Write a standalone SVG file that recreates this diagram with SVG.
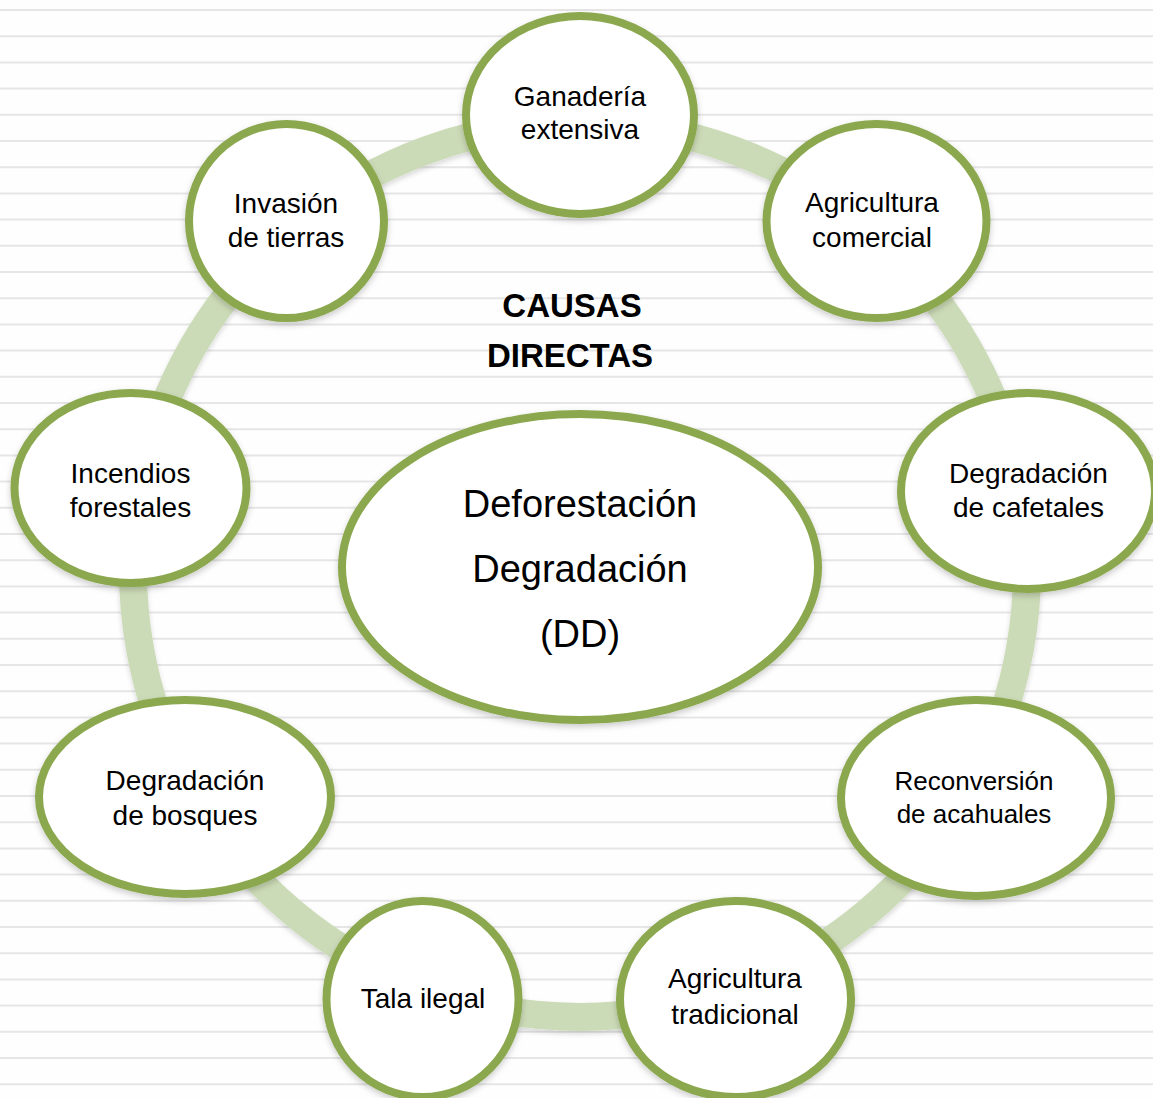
<svg xmlns="http://www.w3.org/2000/svg" width="1153" height="1098" viewBox="0 0 1153 1098">
  <defs>
    <style>
      .bg { fill: #fefefe; }
      .rule { stroke: #e6e6e6; stroke-width: 2; fill: none; }
      .ring { stroke: #ccdbb7; stroke-width: 28; fill: none; }
      .node { fill: #ffffff; stroke: #8ba84f; stroke-width: 8; filter: url(#shadow); }
      .lbl { font-family: "Liberation Sans", Arial, sans-serif; font-size: 28px; fill: #000000; text-anchor: middle; }
      .small { font-size: 26px; }
      .big { font-size: 38px; }
      .title { font-family: "Liberation Sans", Arial, sans-serif; font-size: 33px; font-weight: bold; fill: #000000; text-anchor: middle; }
    </style>
    <filter id="shadow" x="-20%" y="-20%" width="140%" height="150%">
      <feDropShadow dx="0" dy="3" stdDeviation="3" flood-color="#000000" flood-opacity="0.2"/>
    </filter>
    <filter id="ringshadow" x="-10%" y="-10%" width="120%" height="120%">
      <feDropShadow dx="0" dy="3" stdDeviation="2.5" flood-color="#000000" flood-opacity="0.15"/>
    </filter>
  </defs>

  <rect class="bg" x="0" y="0" width="1153" height="1098"/>
  <path class="rule" d="M0 10H1153 M0 36.2H1153 M0 62.4H1153 M0 88.6H1153 M0 114.8H1153 M0 141H1153 M0 167.2H1153 M0 193.4H1153 M0 219.6H1153 M0 245.8H1153 M0 272H1153 M0 298.2H1153 M0 324.4H1153 M0 350.6H1153 M0 376.8H1153 M0 403H1153 M0 429.2H1153 M0 455.4H1153 M0 481.6H1153 M0 507.8H1153 M0 534H1153 M0 560.2H1153 M0 586.4H1153 M0 612.6H1153 M0 638.8H1153 M0 665H1153 M0 691.2H1153 M0 717.4H1153 M0 743.6H1153 M0 769.8H1153 M0 796H1153 M0 822.2H1153 M0 848.4H1153 M0 874.6H1153 M0 900.8H1153 M0 927H1153 M0 953.2H1153 M0 979.4H1153 M0 1005.6H1153 M0 1031.8H1153 M0 1058H1153 M0 1084.2H1153"/>

  <g id="connectors" filter="url(#ringshadow)">
    <path class="ring" d="M580 123 A447 447 0 0 1 867.3 227.6"/>
    <path class="ring" d="M867.3 227.6 A447 447 0 0 1 1020.2 492.4"/>
    <path class="ring" d="M1020.2 492.4 A447 447 0 0 1 967.1 793.5"/>
    <path class="ring" d="M967.1 793.5 A447 447 0 0 1 732.9 990"/>
    <path class="ring" d="M732.9 990 A447 447 0 0 1 427.1 990"/>
    <path class="ring" d="M427.1 990 A447 447 0 0 1 192.9 793.5"/>
    <path class="ring" d="M192.9 793.5 A447 447 0 0 1 139.8 492.4"/>
    <path class="ring" d="M139.8 492.4 A447 447 0 0 1 292.7 227.6"/>
    <path class="ring" d="M292.7 227.6 A447 447 0 0 1 580 123"/>
  </g>

  <g id="title">
    <text class="title" x="572" y="317">CAUSAS</text>
    <text class="title" x="570" y="367">DIRECTAS</text>
  </g>

  <g id="node-center">
    <ellipse class="node" cx="580" cy="567" rx="238" ry="153"/>
    <text class="lbl big" x="580" y="517">Deforestación</text>
    <text class="lbl big" x="580" y="582">Degradación</text>
    <text class="lbl big" x="580" y="647">(DD)</text>
  </g>

  <g id="node-ganaderia">
    <ellipse class="node" cx="580" cy="115" rx="114" ry="99"/>
    <text class="lbl" x="580" y="106">Ganadería</text>
    <text class="lbl" x="580" y="139">extensiva</text>
  </g>

  <g id="node-agricultura-comercial">
    <ellipse class="node" cx="876.5" cy="221" rx="110" ry="97"/>
    <text class="lbl" x="872" y="212">Agricultura</text>
    <text class="lbl" x="872" y="247">comercial</text>
  </g>

  <g id="node-cafetales">
    <ellipse class="node" cx="1028" cy="491" rx="127" ry="98"/>
    <text class="lbl" x="1028.5" y="483">Degradación</text>
    <text class="lbl" x="1028.5" y="517">de cafetales</text>
  </g>

  <g id="node-reconversion">
    <ellipse class="node" cx="976" cy="798" rx="135" ry="98"/>
    <text class="lbl small" x="974" y="790">Reconversión</text>
    <text class="lbl small" x="974" y="823">de acahuales</text>
  </g>

  <g id="node-agricultura-tradicional">
    <ellipse class="node" cx="735.5" cy="999" rx="115.5" ry="98"/>
    <text class="lbl" x="735" y="988">Agricultura</text>
    <text class="lbl" x="735" y="1024">tradicional</text>
  </g>

  <g id="node-tala">
    <ellipse class="node" cx="422.5" cy="999" rx="96" ry="98"/>
    <text class="lbl" x="423" y="1008">Tala ilegal</text>
  </g>

  <g id="node-bosques">
    <ellipse class="node" cx="185" cy="797" rx="146" ry="97"/>
    <text class="lbl" x="185" y="790">Degradación</text>
    <text class="lbl" x="185" y="825">de bosques</text>
  </g>

  <g id="node-incendios">
    <ellipse class="node" cx="130.5" cy="488" rx="116" ry="95"/>
    <text class="lbl" x="130.5" y="483">Incendios</text>
    <text class="lbl" x="130.5" y="517">forestales</text>
  </g>

  <g id="node-invasion">
    <ellipse class="node" cx="286.5" cy="221" rx="97.5" ry="97"/>
    <text class="lbl" x="286" y="213">Invasión</text>
    <text class="lbl" x="286" y="247">de tierras</text>
  </g>
</svg>
